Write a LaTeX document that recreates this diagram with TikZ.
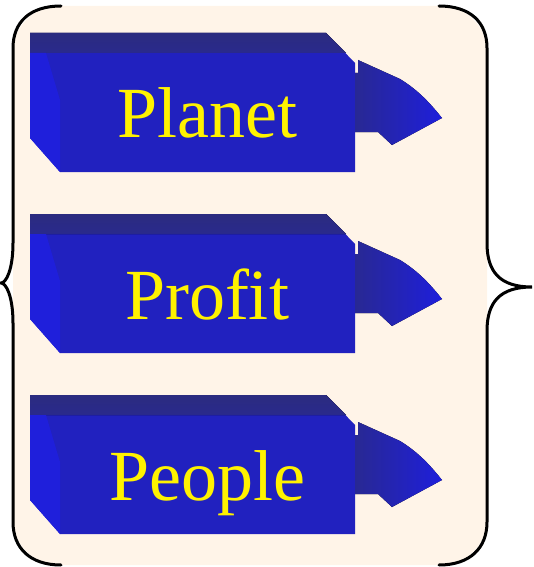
\documentclass[tikz,border=0pt]{standalone}
\usepackage{fontspec}
\setmainfont{Liberation Serif}
\begin{document}
\begin{tikzpicture}[
    x=1pt, y=-1pt,
    brace/.style={draw=black, line width=3pt, line cap=round},
    backdrop/.style={fill=peach, draw=none},
    frontface/.style={fill=boxblue},
    topface/.style={top color=topblue, bottom color=topblue!80!boxblue},
    sideface/.style={fill=sideblue},
    headface/.style={left color=topblue!70!boxblue, right color=sideblue},
    label/.style={text=yellow, anchor=base, inner sep=0pt,
        font=\fontsize{72}{76}\selectfont}
]
\definecolor{peach}{rgb}{1,0.955,0.91}
\definecolor{boxblue}{rgb}{0.13,0.13,0.75}
\definecolor{topblue}{rgb}{0.17,0.17,0.5}
\definecolor{sideblue}{rgb}{0.12,0.12,0.86}

\useasboundingbox (0,0) rectangle (533,567);

% backdrop between the braces
\path[backdrop, rounded corners=46pt] (13,6) rectangle (487,565);

% three arrow blocks
\foreach \txt/\dy/\id in {Planet/0/planet, Profit/181/profit, People/362/people}{
  \begin{scope}[shift={(0,\dy)}]
    % body
    \fill[frontface] (30,33) -- (326,33) -- (355,63) -- (355,172)
        -- (60,172) -- (30,138) -- cycle;
    \fill[topface] (30,33) -- (326,33) -- (346,53) -- (30,53) -- cycle;
    \fill[sideface] (30,53) -- (46,53) -- (60,100) -- (60,172) -- (30,138) -- cycle;
    % arrow head
    \fill[headface] (358,60) -- (400,79) .. controls (418,90) and (430,103) .. (442,118)
        -- (392,145) -- (378,132) -- (355,132) -- (355,73) -- (358,73) -- cycle;
    \node[label] (\id) at (207,138) {\txt};
  \end{scope}
}

% left brace
\path[brace] (61,6) .. controls (30,6) and (13,22) .. (13,48) -- (13,243)
    .. controls (13,270) and (6,283) .. (1,283)
    .. controls (6,283) and (13,296) .. (13,323) -- (13,522)
    .. controls (13,548) and (30,565) .. (61,565);

% right brace
\path[brace] (439,6) .. controls (470,6) and (487,22) .. (487,48) -- (487,243)
    .. controls (487,272) and (500,287) .. (532,287)
    .. controls (500,287) and (487,302) .. (487,331) -- (487,522)
    .. controls (487,548) and (470,565) .. (439,565);

\end{tikzpicture}
\end{document}
